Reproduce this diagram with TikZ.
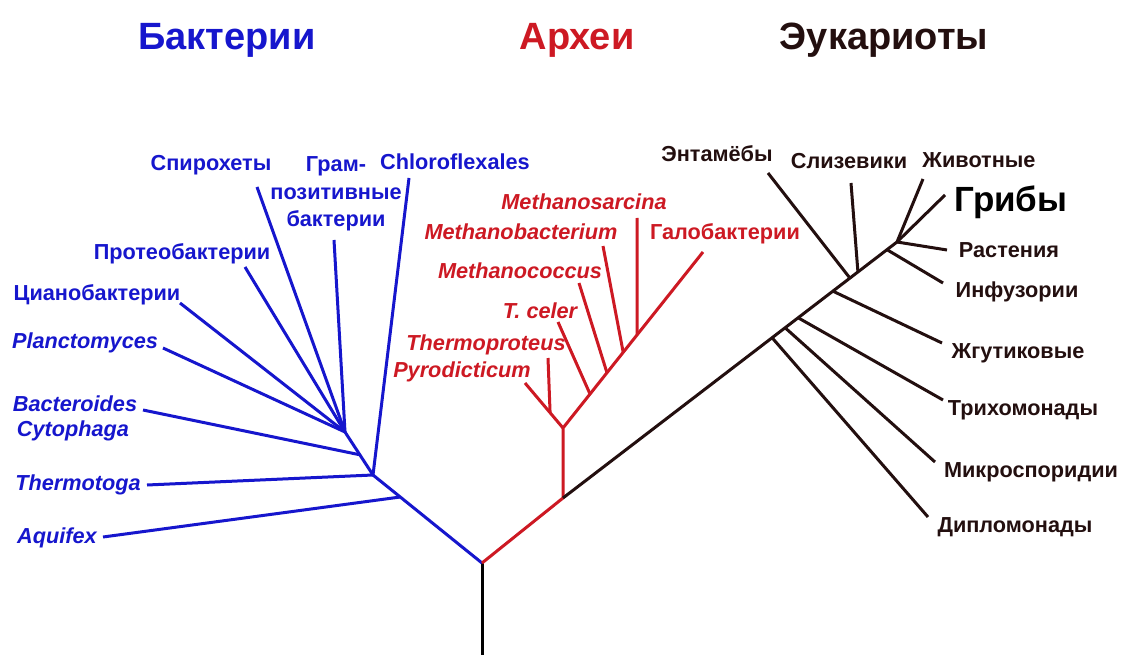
\documentclass[tikz,border=0pt]{standalone}
\usepackage{fontspec}
\setmainfont{Liberation Sans}
\usetikzlibrary{calc}
\definecolor{bac}{RGB}{22,22,205}
\definecolor{arc}{RGB}{205,25,35}
\definecolor{euk}{RGB}{35,15,15}
\begin{document}
\begin{tikzpicture}[x=1pt,y=-1pt,
  lbl/.style={inner sep=0pt, anchor=base, font=\fontsize{21.7}{24}\selectfont\bfseries},
  itl/.style={inner sep=0pt, anchor=base, font=\fontsize{21.7}{24}\selectfont\bfseries\itshape},
  ttl/.style={inner sep=0pt, anchor=base, font=\fontsize{38}{44}\selectfont\bfseries},
  br/.style={line width=3pt, line join=round}]
\useasboundingbox[fill=white] (0,0) rectangle (1125,655);

% titles
\node[ttl, text=bac] (tB) at (227,50) {Бактерии};
\node[ttl, text=arc] (tA) at (577,50) {Археи};
\node[ttl, text=euk] (tE) at (884,50) {Эукариоты};

% ---------- bacteria ----------
\begin{scope}[text=bac]
\node[lbl] (Lsp) at (211,171) {Спирохеты};
\node[lbl] (Lgp1) at (336,172) {Грам-};
\node[lbl] (Lgp2) at (336,200) {позитивные};
\node[lbl] (Lgp3) at (336,227) {бактерии};
\node[lbl] (Lch) at (455,170) {Chloroflexales};
\node[lbl] (Lpr) at (182,260) {Протеобактерии};
\node[lbl] (Lcy) at (97,301) {Цианобактерии};
\node[itl] (Lpl) at (85,348) {Planctomyces};
\node[itl] (Lbc1) at (75,411) {Bacteroides};
\node[itl] (Lbc2) at (73,436) {Cytophaga};
\node[itl] (Lth) at (78,490) {Thermotoga};
\node[itl] (Laq) at (57,543) {Aquifex};
\end{scope}

\coordinate (R) at (482,563);
\coordinate (Rend) at (482,655);
\coordinate (B2) at (373,475);
\coordinate (N1) at (345,432);
\coordinate (B1) at ($(R)!0.75!(B2)$);
\coordinate (B3) at ($(B2)!0.47!(N1)$);
\coordinate (aq) at (103,537);
\coordinate (th) at (147,485);
\coordinate (bc) at (143,410);
\coordinate (pl) at (163,348);
\coordinate (cy) at (180,303);
\coordinate (pr) at (245,267);
\coordinate (sp) at (257,187);
\coordinate (gp) at (334,240);
\coordinate (ch) at (409,178);

\draw[br, black] (R) -- (Rend);
\draw[br, bac] (R) -- (B2) -- (N1);
\draw[br, bac] (B1) -- (aq);
\draw[br, bac] (B2) -- (th);
\draw[br, bac] (B2) -- (ch);
\draw[br, bac] (B3) -- (bc);
\draw[br, bac] (N1) -- (pl);
\draw[br, bac] (N1) -- (cy);
\draw[br, bac] (N1) -- (pr);
\draw[br, bac] (N1) -- (sp);
\draw[br, bac] (N1) -- (gp);

% ---------- archaea ----------
\begin{scope}[text=arc]
\node[itl] (Lms) at (584,210) {Methanosarcina};
\node[itl] (Lmb) at (521,240) {Methanobacterium};
\node[lbl] (Lha) at (725,240) {Галобактерии};
\node[itl] (Lmc) at (520,279) {Methanococcus};
\node[itl] (Ltc) at (540,318) {T. celer};
\node[itl] (Ltp) at (486,350) {Thermoproteus};
\node[itl] (Lpy) at (462,377) {Pyrodicticum};
\end{scope}

\coordinate (A1) at (563,498);
\coordinate (A2) at (563,428);
\coordinate (ha) at (703,252);
\coordinate (py) at (525,383);
\coordinate (tp) at (548,358);
\coordinate (tc) at (558,322);
\coordinate (mc) at (579,283);
\coordinate (mb) at (603,246);
\coordinate (ms) at (637,218);
\coordinate (Jtp) at ($(A2)!0.34!(py)$);
\coordinate (Jtc) at ($(A2)!0.193!(ha)$);
\coordinate (Jmc) at ($(A2)!0.314!(ha)$);
\coordinate (Jmb) at ($(A2)!0.43!(ha)$);
\coordinate (Jms) at ($(A2)!0.53!(ha)$);

\draw[br, arc] (R) -- (A1) -- (A2) -- (ha);
\draw[br, arc] (A2) -- (py);
\draw[br, arc] (Jtp) -- (tp);
\draw[br, arc] (Jtc) -- (tc);
\draw[br, arc] (Jmc) -- (mc);
\draw[br, arc] (Jmb) -- (mb);
\draw[br, arc] (Jms) -- (ms);

% ---------- eukaryotes ----------
\begin{scope}[text=euk]
\node[lbl] (Len) at (717,162) {Энтамёбы};
\node[lbl] (Lsl) at (849,169) {Слизевики};
\node[lbl] (Lzv) at (979,168) {Животные};
\node[inner sep=0pt, anchor=base, font=\fontsize{35}{40}\selectfont\bfseries, text=black] (Lgr) at (1011,212) {Грибы};
\node[lbl] (Lra) at (1009,258) {Растения};
\node[lbl] (Lin) at (1017,298) {Инфузории};
\node[lbl] (Lzh) at (1018,358) {Жгутиковые};
\node[lbl] (Ltr) at (1023,415) {Трихомонады};
\node[lbl] (Lmk) at (1031,477) {Микроспоридии};
\node[lbl] (Ldp) at (1015,532) {Дипломонады};
\end{scope}

\coordinate (ET) at (897,242);
\coordinate (dp) at (928,517);
\coordinate (mk) at (935,462);
\coordinate (tr) at (943,400);
\coordinate (zh) at (942,343);
\coordinate (en) at (768,173);
\coordinate (sl) at (851,183);
\coordinate (inf) at (943,283);
\coordinate (ra) at (947,250);
\coordinate (zv) at (923,179);
\coordinate (gr) at (945,195);
\coordinate (Jdp) at ($(A1)!0.626!(ET)$);
\coordinate (Jmk) at ($(A1)!0.665!(ET)$);
\coordinate (Jtr) at ($(A1)!0.704!(ET)$);
\coordinate (Jzh) at ($(A1)!0.808!(ET)$);
\coordinate (Jen) at ($(A1)!0.859!(ET)$);
\coordinate (Jsl) at ($(A1)!0.883!(ET)$);
\coordinate (Jin) at ($(A1)!0.970!(ET)$);

\draw[br, euk] (A1) -- (ET);
\draw[br, euk] (Jdp) -- (dp);
\draw[br, euk] (Jmk) -- (mk);
\draw[br, euk] (Jtr) -- (tr);
\draw[br, euk] (Jzh) -- (zh);
\draw[br, euk] (Jen) -- (en);
\draw[br, euk] (Jsl) -- (sl);
\draw[br, euk] (Jin) -- (inf);
\draw[br, euk] (ET) -- (ra);
\draw[br, euk] (ET) -- (zv);
\draw[br, euk] (ET) -- (gr);
\end{tikzpicture}
\end{document}
